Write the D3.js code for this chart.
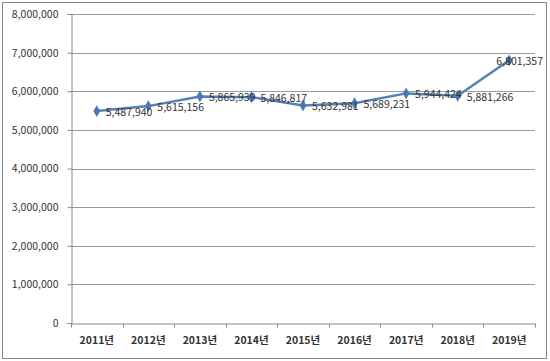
<!DOCTYPE html>
<html>
<head>
<meta charset="utf-8">
<script src="https://cdn.jsdelivr.net/npm/d3@7"></script>
<style>
  html, body { margin: 0; padding: 0; background: #fff; }
  svg { display: block; }
  text { font-family: "Noto Sans CJK KR", "Noto Sans", sans-serif; }
</style>
</head>
<body>
<svg id="chart" width="550" height="361"></svg>
<script>
const categories = ["2011년", "2012년", "2013년", "2014년", "2015년", "2016년", "2017년", "2018년", "2019년"];
const values = [5487940, 5615156, 5865939, 5846817, 5632981, 5689231, 5944424, 5881266, 6801357];
const yTicks = [0, 1000000, 2000000, 3000000, 4000000, 5000000, 6000000, 7000000, 8000000];

const W = 550, H = 361;
const margin = { left: 71, right: 15, top: 14, bottom: 38 };
const svg = d3.select("#chart");

svg.append("rect")
  .attr("x", 2.5).attr("y", 2.5)
  .attr("width", W - 6).attr("height", H - 5)
  .attr("fill", "#fff").attr("stroke", "#8a8a8a").attr("stroke-width", 1);

const x = d3.scaleBand().domain(categories).range([margin.left, W - margin.right]).padding(0);
const y = d3.scaleLinear().domain([0, 8000000]).range([H - margin.bottom, margin.top]);

// gridlines
svg.append("g").selectAll("line").data(yTicks.filter(d => d > 0)).join("line")
  .attr("x1", margin.left).attr("x2", W - margin.right)
  .attr("y1", d => Math.round(y(d)) + 0.5).attr("y2", d => Math.round(y(d)) + 0.5)
  .attr("stroke", "#9a9a9a").attr("stroke-width", 1);

// y axis
const yAxis = d3.axisLeft(y).tickValues(yTicks).tickSize(4).tickPadding(9)
  .tickFormat(d3.format(","));
const gy = svg.append("g").attr("transform", `translate(${margin.left + 0.5},0)`).call(yAxis);
gy.select(".domain").attr("stroke", "#8a8a8a");
gy.selectAll(".tick line").attr("stroke", "#8a8a8a");
gy.selectAll(".tick text").attr("fill", "#333").style("font-size", "10.5px");

// x axis
const xAxis = d3.axisBottom(x).tickSize(0).tickPadding(13);
const gx = svg.append("g").attr("transform", `translate(0,${Math.round(y(0)) + 0.5})`).call(xAxis);
gx.select(".domain").attr("stroke", "#8a8a8a");
gx.selectAll(".tick text").attr("fill", "#333").style("font-size", "10.5px").style("font-weight", "bold");
// band boundary ticks
const bounds = categories.map(c => x(c)).concat([x(categories[categories.length - 1]) + x.bandwidth()]);
gx.append("g").selectAll("line").data(bounds).join("line")
  .attr("x1", d => Math.round(d) + 0.5).attr("x2", d => Math.round(d) + 0.5)
  .attr("y1", 0).attr("y2", 4).attr("stroke", "#8a8a8a");

const cx = (d, i) => x(categories[i]) + x.bandwidth() / 2;

// line
const line = d3.line().x((d, i) => cx(d, i)).y(d => y(d));
svg.append("path").datum(values)
  .attr("d", line).attr("fill", "none")
  .attr("stroke", "#5580b8").attr("stroke-width", 2.5).attr("stroke-linejoin", "round");

// markers
svg.append("g").selectAll("path").data(values).join("path")
  .attr("d", d3.symbol(d3.symbolDiamond, 40)())
  .attr("transform", (d, i) => `translate(${cx(d, i)},${y(d)})`)
  .attr("fill", "#4a78b2");

// data labels
const labels = svg.append("g").selectAll("text").data(values).join("text")
  .attr("y", d => y(d) + 1)
  .attr("dy", "0.35em")
  .attr("fill", "#333")
  .style("font-size", "10.5px")
  .text(d => d3.format(",")(d));
labels.attr("x", function (d, i) {
  const w = this.getComputedTextLength();
  return Math.min(cx(d, i) + 9, W - 7 - w);
});
</script>
</body>
</html>
